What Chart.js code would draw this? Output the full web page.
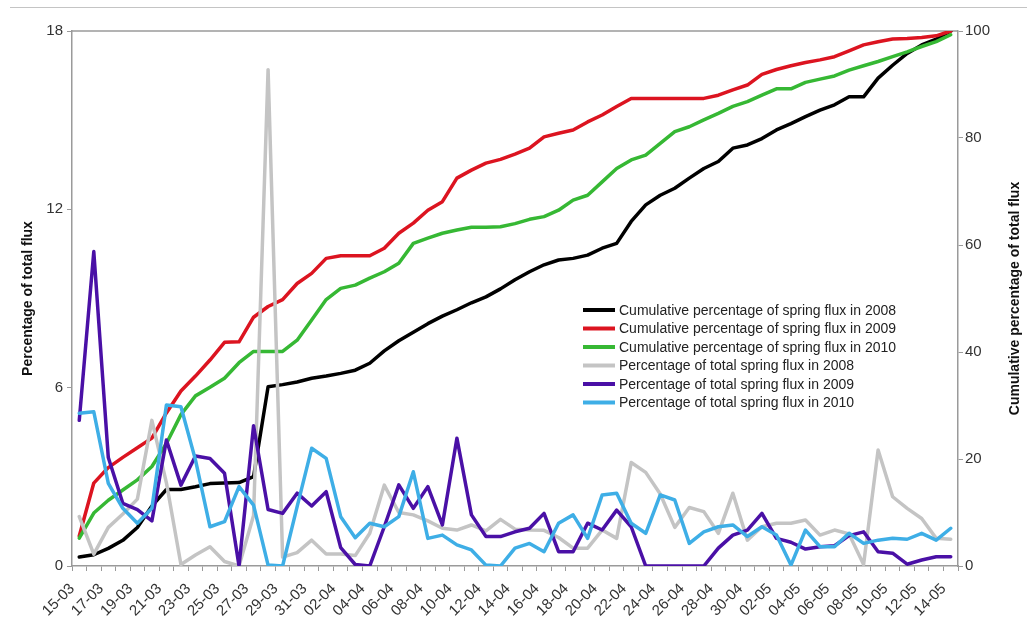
<!DOCTYPE html>
<html>
<head>
<meta charset="utf-8">
<script src="https://cdn.jsdelivr.net/npm/chart.js@4.4.1/dist/chart.umd.min.js"></script>
<style>
  body { margin: 0; background: #fff; }
  #wrap { position: relative; width: 1027px; height: 625px; }
  #topline { position: absolute; top: 7px; left: 10px; right: 0; border-top: 1.5px solid #c4c4c4; }
  canvas { position: absolute; top: 0; left: 0; }
</style>
</head>
<body>
<div id="wrap">
  <div id="topline"></div>
  <canvas id="chart" width="1027" height="625"></canvas>
</div>
<script>
// Dates, one per day (only every second one is printed)
const days = [
  '15-03','16-03','17-03','18-03','19-03','20-03','21-03','22-03','23-03','24-03',
  '25-03','26-03','27-03','28-03','29-03','30-03','31-03','01-04','02-04','03-04',
  '04-04','05-04','06-04','07-04','08-04','09-04','10-04','11-04','12-04','13-04',
  '14-04','15-04','16-04','17-04','18-04','19-04','20-04','21-04','22-04','23-04',
  '24-04','25-04','26-04','27-04','28-04','29-04','30-04','01-05','02-05','03-05',
  '04-05','05-05','06-05','07-05','08-05','09-05','10-05','11-05','12-05','13-05',
  '14-05'
];

// Cumulative percentage (right axis)
const cum2008 = [1.7,2.1,3.3,4.8,7.2,11.2,14.3,14.3,14.8,15.4,15.5,15.6,16.7,33.5,33.9,34.4,35.1,35.5,36.0,36.6,
  37.9,40.2,42.1,43.7,45.3,46.7,47.9,49.2,50.3,51.8,53.5,55.0,56.3,57.2,57.5,58.1,59.4,60.3,64.4,67.5,
  69.3,70.6,72.5,74.3,75.6,78.1,78.7,79.9,81.5,82.7,84.0,85.2,86.2,87.7,87.7,91.2,93.6,95.8,97.4,98.5,100];
const cum2009 = [5.6,15.5,18.4,20.3,22.1,23.9,28.6,32.7,35.5,38.5,41.8,41.9,46.5,48.5,49.8,52.8,54.7,57.5,58.0,58.0,
  58.0,59.4,62.2,64.1,66.5,68.1,72.5,74.0,75.3,76.0,77.0,78.1,80.2,80.9,81.5,83.0,84.3,85.9,87.4,87.4,
  87.4,87.4,87.4,87.4,88.0,89.0,89.9,91.9,92.8,93.5,94.1,94.6,95.2,96.3,97.4,98.0,98.5,98.6,98.8,99.1,100];
const cum2010 = [5.2,9.9,12.3,14.2,16.1,18.6,22.9,28.3,31.8,33.4,35.1,38.0,40.1,40.1,40.1,42.2,46.0,49.8,51.9,52.5,
  53.8,55.0,56.6,60.3,61.3,62.2,62.8,63.3,63.3,63.4,64.0,64.8,65.3,66.5,68.4,69.3,71.8,74.3,75.9,76.8,
  79.0,81.2,82.1,83.4,84.6,85.9,86.8,88.0,89.2,89.2,90.4,91.0,91.6,92.7,93.5,94.3,95.2,96.1,97.1,98.0,99.3];

// Daily percentage of total flux (left axis)
const pct2008 = [1.66,0.4,1.3,1.75,2.25,4.9,2.8,0.05,0.37,0.65,0.15,0,1.7,16.7,0.3,0.45,0.87,0.4,0.4,0.35,
  1.1,2.72,1.8,1.72,1.52,1.27,1.21,1.38,1.18,1.57,1.24,1.21,1.2,0.96,0.6,0.6,1.21,0.93,3.48,3.15,
  2.42,1.3,1.97,1.83,1.1,2.45,0.87,1.32,1.44,1.44,1.55,1.04,1.21,1.08,0.05,3.9,2.33,1.94,1.6,0.93,0.9];
const pct2009 = [4.9,10.58,3.65,2.11,1.9,1.52,4.24,2.72,3.7,3.62,3.12,0,4.72,1.9,1.77,2.45,2.02,2.5,0.62,0.05,
  0,1.32,2.73,1.94,2.67,1.38,4.3,1.72,0.99,0.99,1.15,1.27,1.77,0.48,0.48,1.44,1.21,1.88,1.32,0,
  0,0,0,0,0.6,1.04,1.21,1.77,0.93,0.8,0.57,0.65,0.68,1.02,1.15,0.48,0.43,0.06,0.2,0.31,0.31];
const pct2010 = [5.14,5.19,2.78,1.94,1.44,1.94,5.42,5.36,3.57,1.32,1.49,2.67,2.05,0.03,0,2.0,3.96,3.62,1.66,0.95,
  1.44,1.32,1.66,3.17,0.93,1.04,0.71,0.54,0.03,0,0.6,0.76,0.48,1.44,1.72,0.93,2.39,2.45,1.44,1.1,
  2.39,2.22,0.76,1.15,1.32,1.38,0.99,1.32,1.04,0.03,1.21,0.65,0.65,1.1,0.76,0.87,0.93,0.9,1.1,0.87,1.27];

const FONT = 'Liberation Sans, Arial, sans-serif';
const AXIS = '#9a9a9a';

function line(label, data, color, axis, order) {
  return {
    label: label, data: data, yAxisID: axis, order: order,
    borderColor: color, backgroundColor: color,
    borderWidth: 3.5, pointRadius: 0, tension: 0,
    borderJoinStyle: 'round', borderCapStyle: 'round'
  };
}

// axis titles, plot border top and the legend inside the plot
const extras = {
  id: 'extras',
  beforeDatasetsDraw(chart) {
    const a = chart.chartArea, ctx = chart.ctx;
    ctx.save();
    ctx.strokeStyle = AXIS;
    ctx.lineWidth = 1.5;
    ctx.beginPath();
    ctx.moveTo(a.left, a.top);
    ctx.lineTo(a.right, a.top);
    ctx.stroke();
    ctx.restore();
  },
  afterDraw(chart) {
    const a = chart.chartArea, ctx = chart.ctx;
    const mid = (a.top + a.bottom) / 2;
    ctx.save();
    ctx.fillStyle = '#111';
    ctx.font = 'bold 14px ' + FONT;
    ctx.textAlign = 'center';
    ctx.textBaseline = 'middle';
    ctx.translate(28, mid);
    ctx.rotate(-Math.PI / 2);
    ctx.fillText('Percentage of total flux', 0, 0);
    ctx.restore();

    ctx.save();
    ctx.fillStyle = '#111';
    ctx.font = 'bold 14px ' + FONT;
    ctx.textAlign = 'center';
    ctx.textBaseline = 'middle';
    ctx.translate(1015, mid);
    ctx.rotate(-Math.PI / 2);
    ctx.fillText('Cumulative percentage of total flux', 0, 0);
    ctx.restore();

    // legend
    ctx.save();
    ctx.font = '14px ' + FONT;
    ctx.textBaseline = 'middle';
    ctx.fillStyle = '#222';
    chart.data.datasets.forEach((ds, i) => {
      const y = 310 + i * 18.5;
      ctx.strokeStyle = ds.borderColor;
      ctx.lineWidth = 4;
      ctx.beginPath();
      ctx.moveTo(583, y);
      ctx.lineTo(615, y);
      ctx.stroke();
      ctx.fillText(ds.label, 619, y + 1);
    });
    ctx.restore();
  }
};

new Chart(document.querySelector('#chart'), {
  type: 'line',
  data: {
    labels: days,
    datasets: [
      line('Cumulative percentage of spring flux in 2008', cum2008, '#000000', 'y1', 6),
      line('Cumulative percentage of spring flux in 2009', cum2009, '#dc1420', 'y1', 5),
      line('Cumulative percentage of spring flux in 2010', cum2010, '#36b834', 'y1', 4),
      line('Percentage of total spring flux in 2008', pct2008, '#c4c4c4', 'y', 3),
      line('Percentage of total spring flux in 2009', pct2009, '#4a10a6', 'y', 2),
      line('Percentage of total spring flux in 2010', pct2010, '#3eaee6', 'y', 1)
    ]
  },
  options: {
    responsive: false,
    animation: false,
    layout: { padding: { top: 31, left: 0, right: 0, bottom: 0 } },
    plugins: { legend: { display: false }, tooltip: { enabled: false } },
    scales: {
      x: {
        type: 'category',
        offset: true,
        afterFit: s => { s.height = 59; },
        grid: { drawOnChartArea: false, offset: true, color: AXIS, tickLength: 5 },
        border: { color: AXIS, width: 1.5 },
        ticks: {
          autoSkip: false, maxRotation: 45, minRotation: 45,
          labelOffset: -7, padding: 9,
          color: '#333', font: { family: FONT, size: 15 },
          callback: (v, i) => i % 2 ? '' : days[i]
        }
      },
      y: {
        position: 'left',
        min: 0, max: 18,
        afterFit: s => { s.width = 72; },
        grid: { drawOnChartArea: false, color: AXIS, tickLength: 5 },
        border: { color: AXIS, width: 1.5 },
        ticks: { stepSize: 6, padding: 4, color: '#333', font: { family: FONT, size: 15 } }
      },
      y1: {
        position: 'right',
        min: 0, max: 100,
        afterFit: s => { s.width = 69; },
        grid: { drawOnChartArea: false, color: AXIS, tickLength: 5 },
        border: { color: AXIS, width: 1.5 },
        ticks: { stepSize: 20, padding: 2, color: '#333', font: { family: FONT, size: 15 } }
      }
    }
  },
  plugins: [extras]
});
</script>
</body>
</html>
